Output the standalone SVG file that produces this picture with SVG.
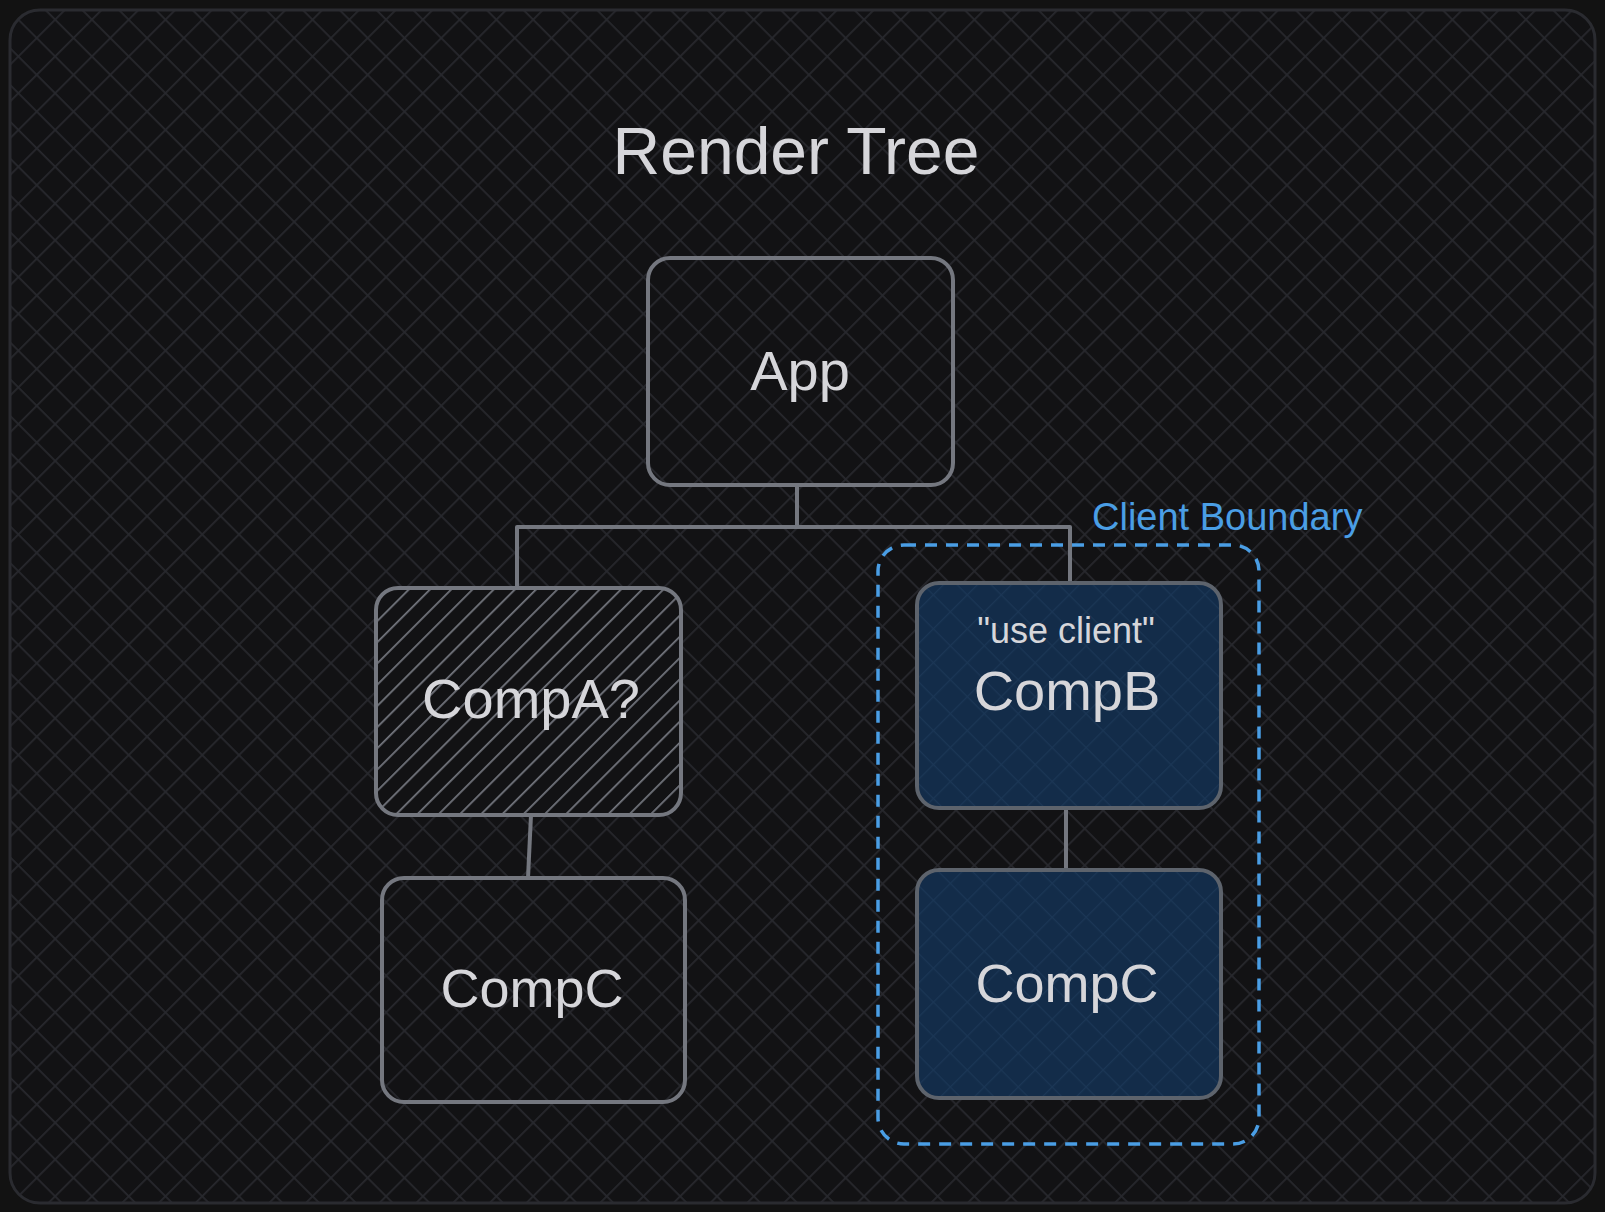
<svg xmlns="http://www.w3.org/2000/svg" width="1605" height="1212" viewBox="0 0 1605 1212">
  <style>
    .box { fill: none; stroke: #74777f; stroke-width: 4; }
    .blue { fill: url(#navy); stroke: #5d636c; stroke-width: 4; }
    .lbl { font-family: "Liberation Sans", Arial, sans-serif; fill: #d6d6da; text-anchor: middle; }
    .conn { fill: none; stroke: #74777f; stroke-width: 4; stroke-linejoin: round; }
  </style>
  <defs>
    <pattern id="cross" width="26" height="26" patternUnits="userSpaceOnUse" patternTransform="rotate(45)">
      <path d="M0 0 V26 M0 0 H26" stroke="#27282d" stroke-width="3.5"/>
    </pattern>
    <pattern id="navy" width="24" height="24" patternUnits="userSpaceOnUse" patternTransform="rotate(45)">
      <rect width="24" height="24" fill="#132c49"/>
      <path d="M0 0 V24 M0 0 H24" stroke="#1b3655" stroke-width="2.5"/>
    </pattern>
    <pattern id="hatch" width="15" height="15" patternUnits="userSpaceOnUse" patternTransform="rotate(45)">
      <rect width="15" height="15" fill="#121214"/>
      <path d="M0 0 V15" stroke="#73767e" stroke-width="3.5"/>
    </pattern>
  </defs>

  <rect width="1605" height="1212" fill="#121212"/>
  <g id="frame">
    <rect x="10" y="10" width="1585" height="1193" rx="30" fill="#121214"/>
    <rect x="10" y="10" width="1585" height="1193" rx="30" fill="url(#cross)" stroke="#2a2b30" stroke-width="3"/>
  </g>

  <g id="title">
    <text class="lbl" x="796" y="174" font-size="66">Render Tree</text>
  </g>

  <g id="connectors">
    <path class="conn" d="M797 485 V527"/>
    <path class="conn" d="M517 588 V527 H1070 V583"/>
    <path class="conn" d="M531 815 L528 878"/>
    <path class="conn" d="M1066 808 V871"/>
  </g>

  <g id="client-boundary">
    <rect x="878" y="545" width="381" height="599" rx="26" fill="none" stroke="#4a9ee5" stroke-width="3.5" stroke-dasharray="12 9"/>
    <text x="1092" y="530" font-family="Liberation Sans, Arial, sans-serif" font-size="38" fill="#4a9ee5">Client Boundary</text>
  </g>

  <g id="app">
    <rect class="box" x="648" y="258" width="305" height="227" rx="22"/>
    <text class="lbl" x="800" y="390" font-size="56">App</text>
  </g>

  <g id="compA">
    <rect x="376" y="588" width="305" height="227" rx="22" fill="url(#hatch)" stroke="#74777f" stroke-width="4"/>
    <text class="lbl" x="531" y="718" font-size="56">CompA?</text>
  </g>

  <g id="compC-left">
    <rect class="box" x="382" y="878" width="303" height="224" rx="22"/>
    <text class="lbl" x="532" y="1007" font-size="54">CompC</text>
  </g>

  <g id="compB">
    <rect class="blue" x="917" y="583" width="304" height="225" rx="22"/>
    <text class="lbl" x="1066" y="643" font-size="36">"use client"</text>
    <text class="lbl" x="1067" y="710" font-size="56">CompB</text>
  </g>

  <g id="compC-right">
    <rect class="blue" x="917" y="870" width="304" height="228" rx="22"/>
    <text class="lbl" x="1067" y="1002" font-size="54">CompC</text>
  </g>
</svg>
